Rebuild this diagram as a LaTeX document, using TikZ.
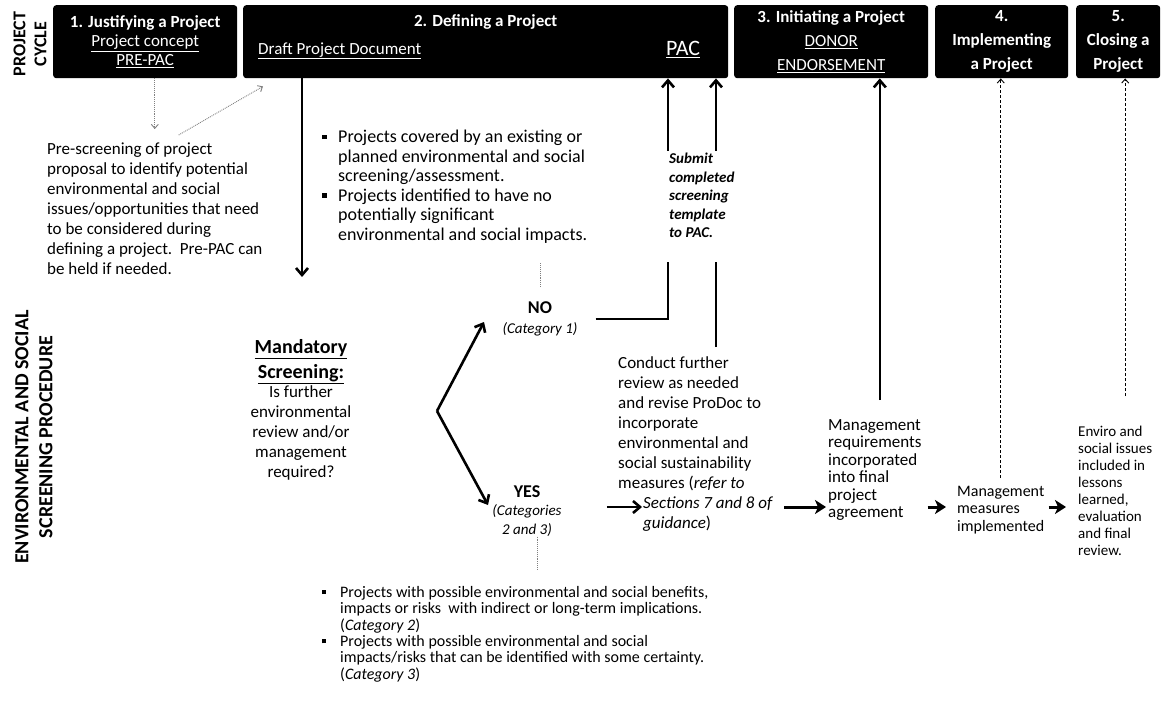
\documentclass[tikz,border=0pt]{standalone}
\usepackage{fontspec}
\setmainfont{Carlito}
\usetikzlibrary{arrows.meta,positioning}
\newcommand{\fs}[2]{\fontsize{#1}{#2}\selectfont}
\newcommand{\sqb}{\rule[0.2em]{0.25em}{0.25em}}

\begin{document}
\begin{tikzpicture}[x=1pt,y=-1pt,
  phase/.style={fill=black, rounded corners=3pt, text=white, align=center, inner sep=0pt, anchor=north west, minimum height=73pt, font=\bfseries\fs{17}{20}},
  txt/.style={align=left, inner sep=0pt, anchor=north west, font=\fs{17}{20}},
  bigarrow/.style={line width=2.6pt, -{Straight Barb[length=7pt,width=12pt]}},
  bigline/.style={line width=2.6pt},
  steparrow/.style={line width=3pt, -{Stealth[length=11pt,width=14pt,inset=3pt]}},
  dotline/.style={gray, densely dotted, line width=0.9pt},
  dotarrow/.style={dotline, -{Straight Barb[length=4pt,width=7pt]}},
  dasharrow/.style={dash pattern=on 3pt off 2pt, line width=0.9pt, -{Straight Barb[length=4pt,width=7pt]}}]
\fill[white] (0,0) rectangle (1164,703);
\useasboundingbox (0,0) rectangle (1164,703);

\node[rotate=90, align=center, inner sep=0pt, font=\bfseries\fs{18}{21}] (cyclelab) at (30,44) {PROJECT\\CYCLE};
\node[rotate=90, align=center, inner sep=0pt, font=\bfseries\fs{20}{24}] (screenlab) at (34,437) {ENVIRONMENTAL AND SOCIAL\\SCREENING PROCEDURE};

\node[phase, minimum width=184pt, font=\bfseries\fs{17}{19}] (box1) at (53,5) {1. Justifying a Project\\{\mdseries\underline{Project concept}}\\{\mdseries\underline{PRE-PAC}}};
\node[phase, minimum width=485pt] (box2) at (243,5) {};
\node[below=9pt of box2.north, inner sep=0pt, text=white, font=\bfseries\fs{17}{20}] (box2head) {2. Defining a Project};
\node[anchor=west, inner sep=0pt, text=white, font=\fs{17}{20}] (draft) at ([xshift=15pt,yshift=-9pt]box2.west) {\underline{Draft Project Document}};
\node[anchor=east, inner sep=0pt, text=white, font=\fs{22}{24}] (pac) at ([xshift=-28pt,yshift=-8pt]box2.east) {\underline{PAC}};
\node[phase, minimum width=194pt, font=\bfseries\fs{17}{24}] (box3) at (734,5) {3. Initiating a Project\\{\mdseries\underline{DONOR}}\\{\mdseries\underline{ENDORSEMENT}}};
\node[phase, minimum width=133pt, font=\bfseries\fs{17}{24}] (box4) at (935,5) {4.\\Implementing\\a Project};
\node[phase, minimum width=84pt, font=\bfseries\fs{17}{24}] (box5) at (1076,5) {5.\\Closing a\\Project};

\node[txt] (prescreen) at (47,143) {Pre-screening of project\\proposal to identify potential\\environmental and social\\issues/opportunities that need\\to be considered during\\defining a project.\ \ Pre-PAC can\\be held if needed.};
\node[txt, font=\fs{18}{19.5}] (bullets1) at (322,130) {\makebox[16pt][l]{\sqb}Projects covered by an existing or\\\hspace*{16pt}planned environmental and social\\\hspace*{16pt}screening/assessment.\\\makebox[16pt][l]{\sqb}Projects identified to have no\\\hspace*{16pt}potentially significant\\\hspace*{16pt}environmental and social impacts.};
\node[txt, font=\bfseries\itshape\fs{15}{18.5}] (submit) at (669,153) {Submit\\completed\\screening\\template\\to PAC.};

\node[anchor=north, align=center, inner sep=0pt, font=\bfseries\fs{20}{25}] (mandhead) at (301,339) {\underline{Mandatory}\\\underline{Screening:}};
\node[below=2pt of mandhead, align=center, inner sep=0pt, font=\fs{17}{20}] (mandq) {Is further\\environmental\\review and/or\\management\\required?};

\node[align=center, inner sep=0pt, font=\fs{15}{20}] (nolab) at (540,319) {{\bfseries\fs{18}{20}NO}\\{\itshape(Category 1)}};
\node[align=center, inner sep=0pt, font=\fs{15}{18.5}] (yeslab) at (527,511) {{\bfseries\fs{18}{19}YES}\\{\itshape(Categories}\\{\itshape2 and 3)}};

\node[txt] (conduct) at (618,356) {Conduct further\\review as needed\\and revise ProDoc to\\incorporate\\environmental and\\social sustainability\\measures (\textit{refer to}\\\hspace*{25pt}\textit{Sections 7 and 8 of}\\\hspace*{25pt}\textit{guidance})};
\node[txt, font=\fs{17}{17.5}] (mreq) at (828,419) {Management\\requirements\\incorporated\\into final\\project\\agreement};
\node[txt, font=\fs{16}{17.5}] (mimpl) at (957,486) {Management\\measures\\implemented};
\node[txt, font=\fs{15}{17}] (enviro) at (1078,426) {Enviro and\\social issues\\included in\\lessons\\learned,\\evaluation\\and final\\review.};

\node[txt, font=\fs{16}{16.4}] (bullets2) at (322,586) {\makebox[18pt][l]{\sqb}Projects with possible environmental and social benefits,\\\hspace*{18pt}impacts or risks\ \ with indirect or long-term implications.\\\hspace*{18pt}(\textit{Category 2})\\\makebox[18pt][l]{\sqb}Projects with possible environmental and social\\\hspace*{18pt}impacts/risks that can be identified with some certainty.\\\hspace*{18pt}(\textit{Category 3})};

\coordinate (mandin) at (302,277);
\coordinate (fork) at (437,411);
\coordinate (notip) at (484,322);
\coordinate (yestip) at (488,505);
\coordinate (pacl) at (668,262);
\coordinate (pacr) at (716,262);
\coordinate (row) at (0,507);

\draw[dotarrow, shorten >=14pt] (prescreen.north |- box1.south) -- (prescreen.north);
\draw[dotarrow, shorten <=16pt] ([xshift=10pt]prescreen.north) -- ([xshift=20pt,yshift=-8pt]box2.south west);
\draw[bigarrow] (mandin |- box2.south) -- (mandin);
\draw[dotline, shorten <=20pt, shorten >=15pt] (bullets1.south -| nolab.north) -- (nolab.north);
\draw[bigarrow] (fork) -- (notip);
\draw[bigarrow] (fork) -- (yestip);
\draw[bigline, shorten <=18pt] (nolab.east) -| (pacl);
\draw[bigarrow, shorten <=2pt] (submit.north -| pacl) -- (pacl |- box2.south);
\draw[bigline, shorten <=9pt] (conduct.north -| pacr) -- (pacr);
\draw[bigarrow, shorten <=2pt] (submit.north -| pacr) -- (pacr |- box2.south);
\draw[dotline, shorten >=16pt] ([xshift=10pt]yeslab.south) -- ([xshift=10pt]yeslab.south |- bullets2.north);
\draw[bigarrow, shorten <=45pt] (yeslab.east |- row) -- ([xshift=24pt]conduct.west |- row);
\draw[steparrow, shorten <=11pt, shorten >=2pt] (conduct.east |- row) -- (mreq.west |- row);
\draw[bigarrow, shorten <=19pt] ([xshift=5pt]mreq.north) -- ([xshift=5pt]mreq.north |- box3.south);
\draw[steparrow, shorten <=6pt, shorten >=11pt] (mreq.east |- row) -- (mimpl.west |- row);
\draw[dasharrow, shorten <=8pt] (mimpl.north) -- (mimpl.north |- box4.south);
\draw[steparrow, shorten <=4pt, shorten >=12pt] (mimpl.east |- row) -- (enviro.west |- row);
\draw[dasharrow, shorten <=30pt] ([xshift=10pt]enviro.north) -- ([xshift=10pt]enviro.north |- box5.south);
\end{tikzpicture}
\end{document}
